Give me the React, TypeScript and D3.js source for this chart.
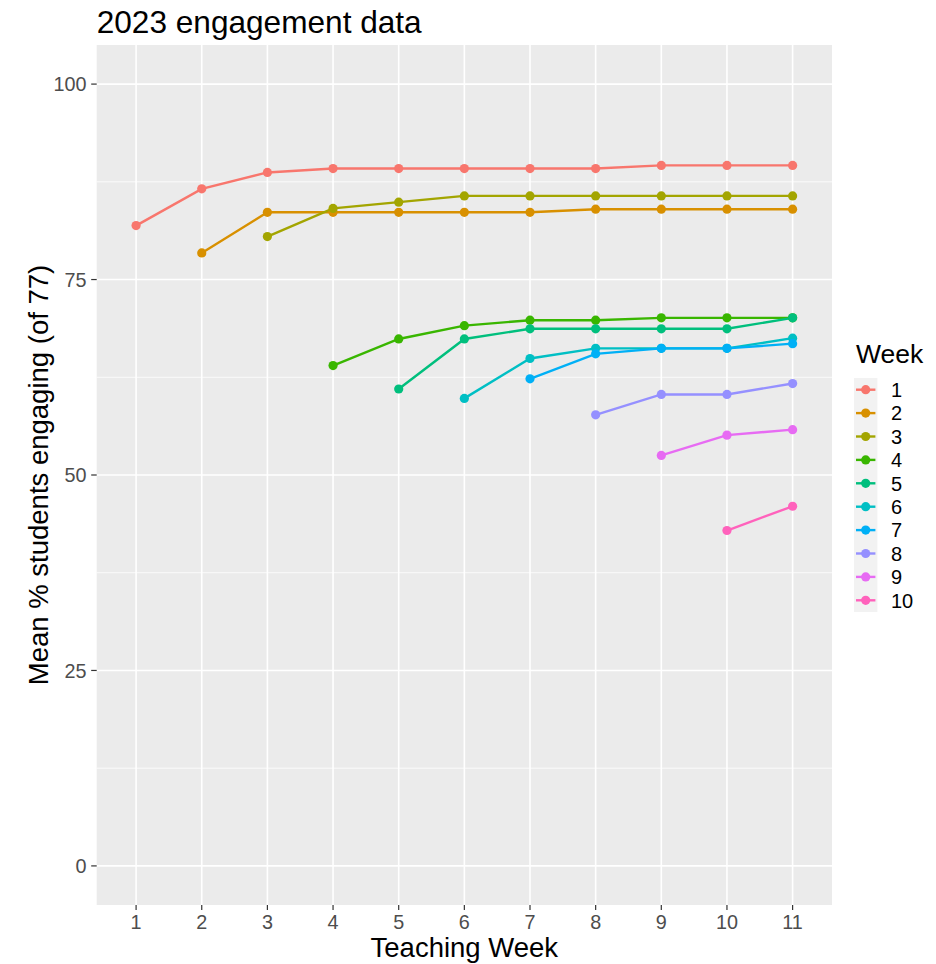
import React from "react";
import * as d3 from "d3";

const teachingWeeks = [1, 2, 3, 4, 5, 6, 7, 8, 9, 10, 11];
const cohortWeeks = ["1", "2", "3", "4", "5", "6", "7", "8", "9", "10"];
const cohortColors = ["#F8766D", "#D89000", "#A3A500", "#39B600", "#00BF7D", "#00BFC4", "#00B0F6", "#9590FF", "#E76BF3", "#FF62BC"];

// values per cohort, starting at teaching week = cohort week
const s1 = [81.9, 86.6, 88.7, 89.2, 89.2, 89.2, 89.2, 89.2, 89.6, 89.6, 89.6];
const s2 = [78.4, 83.6, 83.6, 83.6, 83.6, 83.6, 84.0, 84.0, 84.0, 84.0];
const s3 = [80.5, 84.1, 84.9, 85.7, 85.7, 85.7, 85.7, 85.7, 85.7];
const s4 = [64.0, 67.4, 69.1, 69.8, 69.8, 70.1, 70.1, 70.1];
const s5 = [61.0, 67.4, 68.7, 68.7, 68.7, 68.7, 70.1];
const s6 = [59.8, 64.9, 66.2, 66.2, 66.2, 67.5];
const s7 = [62.3, 65.5, 66.2, 66.2, 66.8];
const s8 = [57.7, 60.3, 60.3, 61.7];
const s9 = [52.5, 55.1, 55.8];
const s10 = [42.9, 46.0];
const seriesValues = [s1, s2, s3, s4, s5, s6, s7, s8, s9, s10];

const yTicks = [0, 25, 50, 75, 100];
const yMinor = [12.5, 37.5, 62.5, 87.5];

const W = 936;
const H = 964;
const panel = { left: 96.7, right: 832, top: 45, bottom: 905 };
const FONT = "'Liberation Sans', Arial, sans-serif";

export default function App() {
  const x = d3.scaleLinear().domain([0.4, 11.6]).range([panel.left, panel.right]);
  const y = d3.scaleLinear().domain([-5, 105]).range([panel.bottom, panel.top]);
  const line = d3
    .line<{ w: number; v: number }>()
    .x((d) => x(d.w))
    .y((d) => y(d.v));

  const series = seriesValues.map((vals, i) => ({
    key: cohortWeeks[i],
    color: cohortColors[i],
    pts: vals.map((v, j) => ({ w: i + 1 + j, v })),
  }));

  const legendX = 854;
  const legendTop = 378;
  const rowH = 23.4;

  return (
    <svg
      width={W}
      height={H}
      style={{ position: "absolute", left: 0, top: 0, display: "block", background: "#fff" }}
      fontFamily={FONT}
    >
      <rect x={0} y={0} width={W} height={H} fill="#fff" />
      {/* panel */}
      <rect x={panel.left} y={panel.top} width={panel.right - panel.left} height={panel.bottom - panel.top} fill="#EBEBEB" />
      {yMinor.map((t) => (
        <line key={"ym" + t} x1={panel.left} x2={panel.right} y1={y(t)} y2={y(t)} stroke="#fff" strokeWidth={0.8} />
      ))}
      {yTicks.map((t) => (
        <line key={"yg" + t} x1={panel.left} x2={panel.right} y1={y(t)} y2={y(t)} stroke="#fff" strokeWidth={1.6} />
      ))}
      {teachingWeeks.map((t) => (
        <line key={"xg" + t} x1={x(t)} x2={x(t)} y1={panel.top} y2={panel.bottom} stroke="#fff" strokeWidth={1.6} />
      ))}

      {/* lines */}
      {series.map((s) => (
        <path key={"l" + s.key} d={line(s.pts) || ""} fill="none" stroke={s.color} strokeWidth={2.4} />
      ))}
      {/* points */}
      {series.map((s) =>
        s.pts.map((p) => <circle key={"p" + s.key + "-" + p.w} cx={x(p.w)} cy={y(p.v)} r={4.6} fill={s.color} />)
      )}

      {/* y axis */}
      {yTicks.map((t) => (
        <g key={"yt" + t}>
          <line x1={panel.left - 5.5} x2={panel.left} y1={y(t)} y2={y(t)} stroke="#333" strokeWidth={1.2} />
          <text x={86.5} y={y(t)} dy="0.36em" textAnchor="end" fontSize={19.8} fill="#4D4D4D">
            {t}
          </text>
        </g>
      ))}
      {/* x axis */}
      {teachingWeeks.map((t) => (
        <g key={"xt" + t}>
          <line x1={x(t)} x2={x(t)} y1={panel.bottom} y2={panel.bottom + 5} stroke="#333" strokeWidth={1.2} />
          <text x={x(t)} y={929} textAnchor="middle" fontSize={19.8} fill="#4D4D4D">
            {t}
          </text>
        </g>
      ))}

      {/* titles */}
      <text x={96.7} y={33} fontSize={31.6} fill="#000">
        2023 engagement data
      </text>
      <text x={(panel.left + panel.right) / 2} y={957} textAnchor="middle" fontSize={27.5} fill="#000">
        Teaching Week
      </text>
      <text
        transform={`translate(48,${(panel.top + panel.bottom) / 2}) rotate(-90)`}
        textAnchor="middle"
        fontSize={27.5}
        fill="#000"
      >
        Mean % students engaging (of 77)
      </text>

      {/* legend */}
      <text x={856} y={363} fontSize={26.5} fill="#000">
        Week
      </text>
      <rect x={legendX} y={legendTop} width={23.4} height={rowH * 10} fill="#F2F2F2" />
      {series.map((s, i) => {
        const cy = legendTop + rowH * (i + 0.5);
        return (
          <g key={"lg" + s.key}>
            <line x1={legendX + 2} x2={legendX + 21.4} y1={cy} y2={cy} stroke={s.color} strokeWidth={2.4} />
            <circle cx={legendX + 11.7} cy={cy} r={4.6} fill={s.color} />
            <text x={891} y={cy} dy="0.36em" fontSize={20} fill="#000">
              {s.key}
            </text>
          </g>
        );
      })}
    </svg>
  );
}
